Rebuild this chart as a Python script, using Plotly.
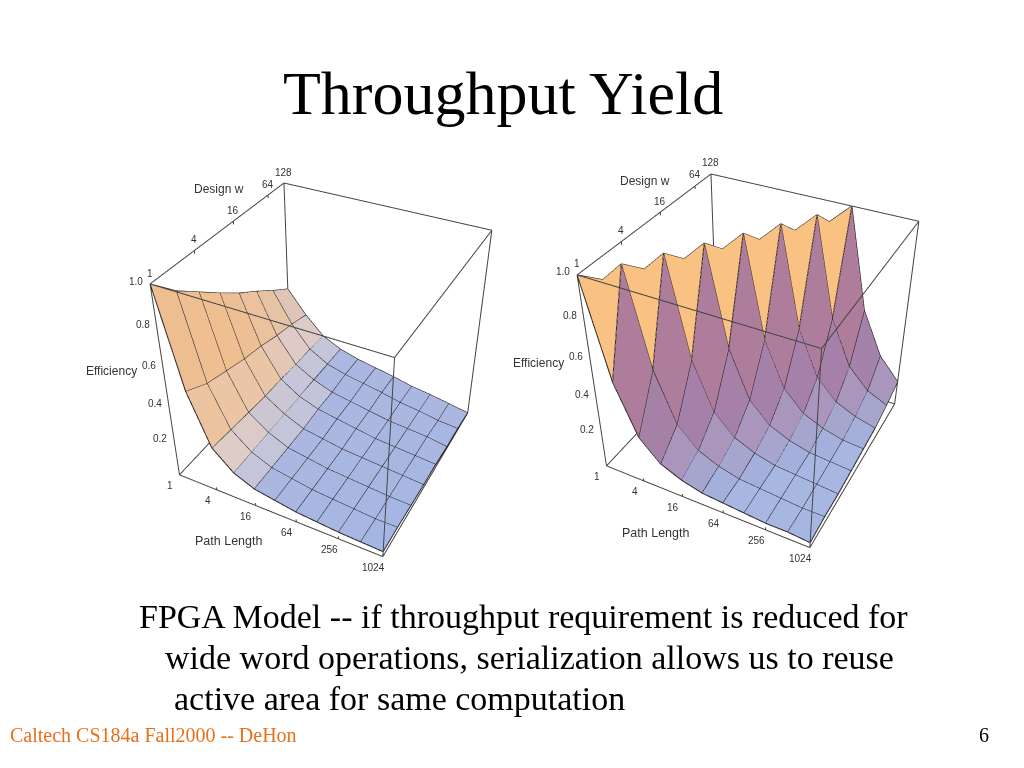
import numpy as np
import plotly.graph_objects as go

path_lengths = [1, 2, 4, 8, 16, 32, 64, 128, 256, 512, 1024]
design_w = [1, 2, 4, 8, 16, 32, 64, 128]
left_eff = [
    [1.00, .52, .25, .15, .10, .08, .06, .05, .04, .035, .03],
    [.89, .46, .24, .15, .10, .08, .06, .05, .04, .03, .03],
    [.805, .43, .23, .15, .10, .08, .06, .05, .04, .03, .025],
    [.72, .40, .22, .15, .10, .08, .06, .05, .04, .03, .02],
    [.64, .38, .22, .15, .11, .09, .07, .05, .04, .03, .02],
    [.57, .35, .21, .15, .11, .09, .07, .05, .04, .03, .01],
    [.495, .33, .21, .15, .12, .10, .08, .055, .04, .02, .01],
    [.425, .30, .20, .15, .12, .10, .08, .055, .04, .02, .00],
]
right_eff = [
    [1.00, .52, .26, .15, .10, .07, .06, .05, .04, .04, .03],
    [.90, 1.00, .52, .26, .15, .10, .07, .06, .05, .04, .04],
    [.80, .90, 1.00, .51, .26, .15, .10, .07, .06, .05, .04],
    [.71, .80, .90, 1.00, .51, .26, .15, .10, .07, .06, .05],
    [.65, .71, .80, .90, 1.00, .50, .26, .15, .10, .07, .06],
    [.59, .65, .71, .80, .90, 1.00, .50, .26, .15, .10, .07],
    [.54, .59, .65, .71, .80, .90, 1.00, .50, .26, .15, .10],
    [.48, .54, .59, .65, .71, .80, .90, 1.00, .49, .26, .14],
]
x_ticks = [1, 4, 16, 64, 256, 1024]
y_ticks = [1, 4, 16, 64, 128]
z_ticks = [0.2, 0.4, 0.6, 0.8, 1.0]
z_tick_text = ["0.2", "0.4", "0.6", "0.8", "1.0"]
title_text = "Throughput Yield"
body_lines = ["FPGA Model -- if throughput requirement is reduced for",
              "wide word operations, serialization allows us to reuse",
              "active area for same computation"]
footer_left = "Caltech CS184a Fall2000 -- DeHon"
footer_right = "6"

W, H = 1024, 768
anchors_n = np.array([[.98, 0, .18], [.89, 0, .45], [.7, 0, .7], [.45, 0, .89], [.2, 0, .98], [0, 0, 1.0],
                      [.95, .25, .2], [.80, -.56, .15], [.76, -.53, .38], [.66, -.46, .6], [.44, -.31, .85],
                      [.28, -.19, .94], [-.63, .44, .63]])
anchors_c = np.array([[240, 190, 140], [236, 198, 165], [222, 205, 200], [198, 198, 218], [172, 184, 226],
                      [165, 182, 228], [240, 190, 145], [175, 125, 155], [165, 130, 170], [170, 150, 190],
                      [165, 165, 205], [165, 175, 220], [250, 195, 130]], float)


def face_color(z, i, j):
    dzdx = (z[i + 1][j + 1] - z[i + 1][j]) / 0.1
    dzdy = (z[i + 1][j] - z[i][j]) * 7
    n = np.array([-dzdx, -dzdy, 1.0])
    n /= np.linalg.norm(n)
    d = np.linalg.norm(anchors_n - n, axis=1) + 1e-3
    wt = d ** -4
    c = (wt[:, None] * anchors_c).sum(0) / wt.sum()
    c = np.clip(c, 0, 255).astype(int)
    return f"rgb({c[0]},{c[1]},{c[2]})"


def add_surface(fig, z, scene):
    nx, ny = len(path_lengths), len(design_w)
    X, Y, Z = [], [], []
    for i in range(ny):
        for j in range(nx):
            X.append(path_lengths[j]); Y.append(design_w[i]); Z.append(z[i][j])
    I, J, K, C = [], [], [], []
    for i in range(ny - 1):
        for j in range(nx - 1):
            a, b, c, d = i * nx + j, i * nx + j + 1, (i + 1) * nx + j + 1, (i + 1) * nx + j
            col = face_color(z, i, j)
            I += [a, b]; J += [b, c]; K += [d, d]; C += [col, col]
    fig.add_trace(go.Mesh3d(x=X, y=Y, z=Z, i=I, j=J, k=K, facecolor=C, flatshading=True,
                            lighting=dict(ambient=1, diffuse=0, specular=0, fresnel=0),
                            hoverinfo="skip", showscale=False, scene=scene))
    lx, ly, lz = [], [], []
    for i in range(ny):
        lx += path_lengths + [None]; ly += [design_w[i]] * nx + [None]; lz += list(z[i]) + [None]
    for j in range(nx):
        lx += [path_lengths[j]] * ny + [None]; ly += design_w + [None]; lz += [z[i][j] for i in range(ny)] + [None]
    fig.add_trace(go.Scatter3d(x=lx, y=ly, z=lz, mode="lines", line=dict(color="#222222", width=2),
                               hoverinfo="skip", showlegend=False, scene=scene))
    # bounding box and tick marks, taken from the axis extents
    x0, x1, y0, y1 = path_lengths[0], path_lengths[-1], design_w[0], design_w[-1]
    bx, by, bz = [], [], []
    for a in (y0, y1):
        for b in (0, 1):
            bx += [x0, x1, None]; by += [a, a, None]; bz += [b, b, None]
    for a in (x0, x1):
        for b in (0, 1):
            bx += [a, a, None]; by += [y0, y1, None]; bz += [b, b, None]
    for a in (x0, x1):
        for b in (y0, y1):
            bx += [a, a, None]; by += [b, b, None]; bz += [0, 1, None]
    for t in y_ticks:
        bx += [x0, x0, None]; by += [t, t, None]; bz += [1, .985, None]
    for t in x_ticks:
        bx += [t, t, None]; by += [y0, y0, None]; bz += [0, .015, None]
    fig.add_trace(go.Scatter3d(x=bx, y=by, z=bz, mode="lines", line=dict(color="#444444", width=2),
                               hoverinfo="skip", showlegend=False, scene=scene))


def scene_text(x, y, z, text, dx, dy):
    return dict(x=float(np.log10(x)), y=float(np.log10(y)), z=z, text=text, xshift=dx, yshift=dy, showarrow=False,
                xanchor="center", yanchor="middle", font=dict(size=10, color="#333333", family="Liberation Sans"))


def tick_labels():
    out = [scene_text(t, 1, 0, str(t), -9, -11) for t in x_ticks]
    out += [scene_text(1, t, 1, str(t), 0, 11) for t in y_ticks]
    out += [scene_text(1, 1, t, s, -14, 3) for t, s in zip(z_ticks, z_tick_text)]
    return out


def axis(ttype, rng):
    return dict(title=dict(text=""), type=ttype, range=rng, showticklabels=False, ticks="",
                showgrid=False, zeroline=False, showbackground=False, showspikes=False, showline=False)


EYE = np.array([.37, -.711, .597]) * 3.53


def scene(dom_x, dom_y):
    return dict(domain=dict(x=dom_x, y=dom_y), aspectmode="manual", aspectratio=dict(x=1, y=1, z=1.0),
                xaxis=axis("log", [0, np.log10(1024)]),
                yaxis=axis("log", [0, np.log10(128)]),
                zaxis=axis("linear", [0, 1]),
                camera=dict(eye=dict(x=EYE[0], y=EYE[1], z=EYE[2]), center=dict(x=0, y=0, z=0),
                            up=dict(x=0, y=0, z=1)),
                annotations=tick_labels())


fig = go.Figure()
add_surface(fig, left_eff, "scene")
add_surface(fig, right_eff, "scene2")


def note(text, x, y, size, color="black", family="Liberation Serif", anchor="left"):
    return dict(text=text, xref="paper", yref="paper", x=x / W, y=1 - y / H, xanchor=anchor, yanchor="middle",
                showarrow=False, font=dict(size=size, color=color, family=family))


SANS = "Liberation Sans"
annotations = [
    note(title_text, 281, 93, 62),
    note(body_lines[0], 137, 616, 34),
    note(body_lines[1], 163, 657, 34),
    note(body_lines[2], 172, 698, 34),
    note(footer_left, 8, 735, 20, "#E8701A"),
    note(footer_right, 977, 735, 20),
    note("Path Length", 228, 541, 12.5, "#333333", SANS, "center"),
    note("Design w", 219, 189, 12, "#333333", SANS, "center"),
    note("Efficiency", 111, 371, 12, "#333333", SANS, "center"),
    note("Path Length", 655, 533, 12.5, "#333333", SANS, "center"),
    note("Design w", 645, 181, 12, "#333333", SANS, "center"),
    note("Efficiency", 538, 363, 12, "#333333", SANS, "center"),
]
fig.update_layout(width=W, height=H, margin=dict(l=0, r=0, t=0, b=0), paper_bgcolor="white", showlegend=False,
                  scene=scene([0.072, 0.572], [0.095, 0.975]), scene2=scene([0.489, 0.989], [0.107, 0.987]),
                  annotations=annotations)
fig.write_html("out.html", post_script="document.body.style.margin='0';", config=dict(displayModeBar=False))
